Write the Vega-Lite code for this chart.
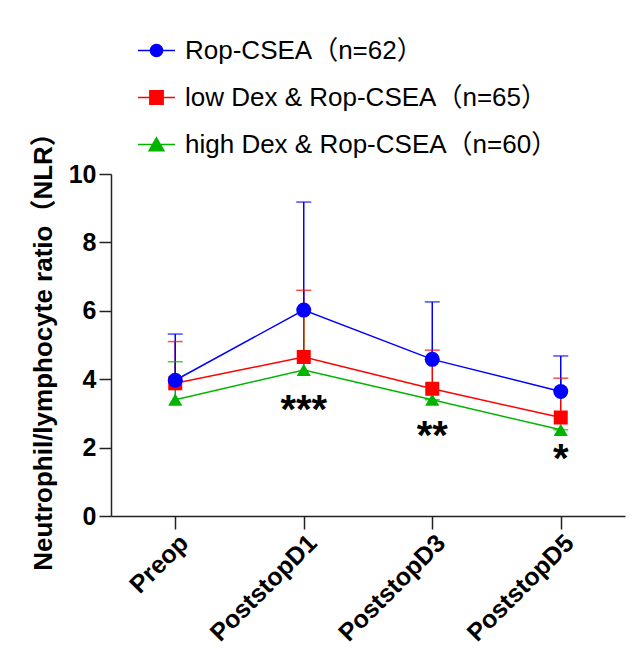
{
  "$schema": "https://vega.github.io/schema/vega-lite/v6.json",
  "autosize": {"type": "none"},
  "width": 514,
  "height": 342,
  "padding": {"left": 111, "top": 174, "right": 18, "bottom": 134},
  "background": "white",
  "config": {
    "view": {"stroke": null},
    "font": "Liberation Sans, Arial, Noto Sans CJK SC, sans-serif",
    "axis": {"grid": false, "domainColor": "#222", "tickColor": "#222", "domainWidth": 1.5, "tickWidth": 1.5, "labelColor": "black", "titleColor": "black"}
  },
  "datasets": {
    "nlr": [
      {"time": "Preop", "group": "high Dex & Rop-CSEA（n=60）", "mean": 3.4, "upper": 4.51},
      {"time": "PoststopD1", "group": "high Dex & Rop-CSEA（n=60）", "mean": 4.27, "upper": 6.05},
      {"time": "PoststopD3", "group": "high Dex & Rop-CSEA（n=60）", "mean": 3.4, "upper": 3.4},
      {"time": "PoststopD5", "group": "high Dex & Rop-CSEA（n=60）", "mean": 2.52, "upper": 2.52},
      {"time": "Preop", "group": "low Dex & Rop-CSEA（n=65）", "mean": 3.88, "upper": 5.1},
      {"time": "PoststopD1", "group": "low Dex & Rop-CSEA（n=65）", "mean": 4.65, "upper": 6.6},
      {"time": "PoststopD3", "group": "low Dex & Rop-CSEA（n=65）", "mean": 3.72, "upper": 4.85},
      {"time": "PoststopD5", "group": "low Dex & Rop-CSEA（n=65）", "mean": 2.88, "upper": 4.03},
      {"time": "Preop", "group": "Rop-CSEA（n=62）", "mean": 3.97, "upper": 5.32},
      {"time": "PoststopD1", "group": "Rop-CSEA（n=62）", "mean": 6.02, "upper": 9.18},
      {"time": "PoststopD3", "group": "Rop-CSEA（n=62）", "mean": 4.58, "upper": 6.26},
      {"time": "PoststopD5", "group": "Rop-CSEA（n=62）", "mean": 3.64, "upper": 4.68}
    ],
    "stars": [
      {"time": "PoststopD1", "label": "***", "y": 2.71},
      {"time": "PoststopD3", "label": "**", "y": 1.95},
      {"time": "PoststopD5", "label": "*", "y": 1.28}
    ]
  },
  "encoding": {
    "x": {
      "field": "time", "type": "nominal",
      "sort": ["Preop", "PoststopD1", "PoststopD3", "PoststopD5"],
      "scale": {"type": "point", "padding": 0.5},
      "axis": {"title": null, "labelAngle": -45, "labelAlign": "right", "labelBaseline": "top", "labelFontSize": 25, "labelFontWeight": "bold", "tickSize": 13, "labelPadding": 1}
    }
  },
  "layer": [
    {
      "data": {"name": "nlr"},
      "mark": {"type": "line", "strokeWidth": 1.5},
      "encoding": {
        "y": {
          "field": "mean", "type": "quantitative",
          "scale": {"domain": [0, 10], "nice": false},
          "axis": {"title": "Neutrophil/lymphocyte ratio（NLR）", "values": [0, 2, 4, 6, 8, 10], "labelFontSize": 25, "labelFontWeight": "bold", "tickSize": 12, "labelPadding": 3, "titleFontSize": 26, "titleFontWeight": "bold", "titlePadding": 12}
        },
        "color": {"field": "group", "type": "nominal", "scale": {"domain": ["Rop-CSEA（n=62）", "low Dex & Rop-CSEA（n=65）", "high Dex & Rop-CSEA（n=60）"], "range": ["#0000FF", "#FF0000", "#00B400"]}}
      }
    },
    {
      "data": {"name": "nlr"},
      "mark": {"type": "rule", "strokeWidth": 1.5},
      "encoding": {
        "y": {"field": "mean", "type": "quantitative"},
        "y2": {"field": "upper"},
        "color": {"field": "group", "type": "nominal"}
      }
    },
    {
      "data": {"name": "nlr"},
      "mark": {"type": "tick", "size": 15, "thickness": 1.5},
      "encoding": {
        "y": {"field": "upper", "type": "quantitative"},
        "color": {"field": "group", "type": "nominal"}
      }
    },
    {
      "data": {"name": "nlr"},
      "transform": [{"filter": "datum.group == 'high Dex & Rop-CSEA（n=60）'"}],
      "mark": {"type": "point", "shape": "triangle-up", "filled": true, "opacity": 1, "size": 200},
      "encoding": {
        "y": {"field": "mean", "type": "quantitative"},
        "color": {"field": "group", "type": "nominal"}
      }
    },
    {
      "data": {"name": "nlr"},
      "transform": [{"filter": "datum.group == 'low Dex & Rop-CSEA（n=65）'"}],
      "mark": {"type": "point", "shape": "square", "filled": true, "opacity": 1, "size": 196},
      "encoding": {
        "y": {"field": "mean", "type": "quantitative"},
        "color": {"field": "group", "type": "nominal"}
      }
    },
    {
      "data": {"name": "nlr"},
      "transform": [{"filter": "datum.group == 'Rop-CSEA（n=62）'"}],
      "mark": {"type": "point", "shape": "circle", "filled": true, "opacity": 1, "size": 225},
      "encoding": {
        "y": {"field": "mean", "type": "quantitative"},
        "color": {"field": "group", "type": "nominal"}
      }
    },
    {
      "data": {"name": "stars"},
      "mark": {"type": "text", "fontSize": 40, "fontWeight": "bold", "baseline": "alphabetic", "align": "center", "color": "black"},
      "encoding": {
        "y": {"field": "y", "type": "quantitative"},
        "text": {"field": "label"}
      }
    },
    {
      "data": {"name": "nlr"},
      "transform": [{"filter": "false"}],
      "mark": {"type": "point", "filled": true, "opacity": 1},
      "encoding": {
        "y": {"field": "mean", "type": "quantitative"},
        "color": {"field": "group", "type": "nominal", "legend": {
          "orient": "none", "legendX": 26, "legendY": -143, "title": null, "padding": 0,
          "symbolSize": 1369, "symbolStrokeWidth": 1.5, "rowPadding": 14, "labelOffset": 9,
          "labelFontSize": 26, "labelColor": "black", "labelLimit": 0, "symbolOpacity": 1,
          "encode": {"symbols": {"update": {"stroke": {"scale": "color", "field": "value"}, "strokeWidth": {"value": 1.5}, "opacity": {"value": 1}}}}
        }},
        "shape": {"field": "group", "type": "nominal", "scale": {"domain": ["Rop-CSEA（n=62）", "low Dex & Rop-CSEA（n=65）", "high Dex & Rop-CSEA（n=60）"], "range": [
          "M-1,0H1M-0.33,0A0.33,0.33 0 1,0 0.33,0A0.33,0.33 0 1,0 -0.33,0Z",
          "M-1,0H1M-0.36,-0.36H0.36V0.36H-0.36Z",
          "M-1,0H1M0,-0.36L0.4,0.34H-0.4Z"
        ]}, "legend": {
          "orient": "none", "legendX": 26, "legendY": -143, "title": null, "padding": 0,
          "symbolSize": 1369, "symbolStrokeWidth": 1.5, "rowPadding": 14, "labelOffset": 9,
          "labelFontSize": 26, "labelColor": "black", "labelLimit": 0, "symbolOpacity": 1,
          "encode": {"symbols": {"update": {"stroke": {"scale": "color", "field": "value"}, "strokeWidth": {"value": 1.5}, "opacity": {"value": 1}}}}
        }}
      }
    }
  ]
}
